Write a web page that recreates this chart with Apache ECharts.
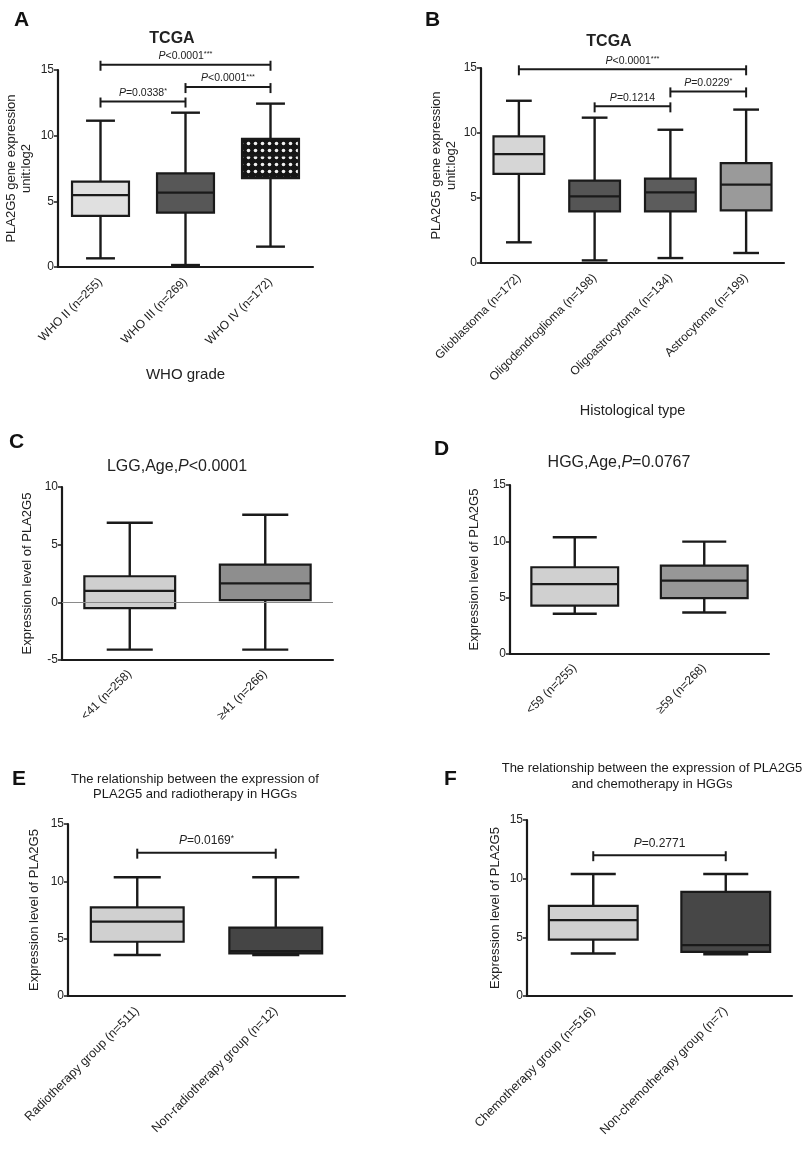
<!DOCTYPE html>
<html><head><meta charset="utf-8">
<script src="https://cdn.jsdelivr.net/npm/echarts@6/dist/echarts.min.js"></script>
<style>html,body{margin:0;padding:0;background:#fff}#c{width:808px;height:1152px}</style>
</head><body><div id="c"></div>
<script>
// ---- data: [min, Q1, median, Q3, max] ----
const catA = ['WHO II (n=255)', 'WHO III (n=269)', 'WHO IV (n=172)'];
const boxA = [[0.66, 3.9, 5.48, 6.5, 11.14], [0.15, 4.14, 5.66, 7.13, 11.75], [1.55, 6.76, 8.5, 9.75, 12.44]];
const brkA = [[0, 2, 15.4, 'P<0.0001***'], [1, 2, 13.7, 'P<0.0001***'], [0, 1, 12.6, 'P=0.0338*']];

const catB = ['Glioblastoma (n=172)', 'Oligodendroglioma (n=198)', 'Oligoastrocytoma (n=134)', 'Astrocytoma (n=199)'];
const boxB = [[1.59, 6.85, 8.38, 9.74, 12.48], [0.2, 3.97, 5.13, 6.33, 11.18], [0.38, 3.97, 5.44, 6.49, 10.25], [0.77, 4.05, 6.03, 7.69, 11.8]];
const brkB = [[0, 3, 14.9, 'P<0.0001***'], [2, 3, 13.2, 'P=0.0229*'], [1, 2, 12.05, 'P=0.1214']];

const catC = ['<41 (n=258)', '\u226541 (n=266)'];
const boxC = [[-4.1, -0.5, 1.0, 2.26, 6.9], [-4.1, 0.2, 1.65, 3.27, 7.6]];

const catD = ['<59 (n=255)', '\u226559 (n=268)'];
const boxD = [[3.57, 4.3, 6.2, 7.7, 10.36], [3.69, 4.96, 6.52, 7.85, 9.97]];

const catE = ['Radiotherapy group (n=511)', 'Non-radiotherapy group (n=12)'];
const boxE = [[3.57, 4.73, 6.48, 7.73, 10.35], [3.57, 3.72, 3.92, 5.96, 10.35]];
const brkE = [[0, 1, 12.5, 'P=0.0169*']];

const catF = ['Chemotherapy group (n=516)', 'Non-chemotherapy group (n=7)'];
const boxF = [[3.62, 4.81, 6.46, 7.68, 10.4], [3.56, 3.76, 4.33, 8.88, 10.4]];
const brkF = [[0, 1, 12.0, 'P=0.2771']];

// ---- styling ----
const FONT = 'Liberation Sans, Arial, sans-serif';
const INK = '#1a1a1a';
function dotPattern(bg, dot, size, r) {
  const c = document.createElement('canvas'); c.width = c.height = size;
  const g = c.getContext('2d'); g.fillStyle = bg; g.fillRect(0, 0, size, size);
  g.fillStyle = dot; g.beginPath(); g.arc(size / 2, size / 2, r, 0, Math.PI * 2); g.fill();
  return { image: c, repeat: 'repeat' };
}
const fillsA = ['#e0e0e0', '#575757', dotPattern('#151515', '#f0f0f0', 7, 1.8)];
const fillsB = ['#d6d6d6', '#555555', '#5c5c5c', '#9a9a9a'];
const fillsC = ['#cfcfcf', '#8e8e8e'];
const fillsD = ['#d0d0d0', '#979797'];
const fillsE = ['#d0d0d0', '#454545'];
const fillsF = ['#d0d0d0', '#474747'];

function boxRender(fills) {
  return function (params, api) {
    const i = api.value(0);
    const c = k => api.coord([i, api.value(k)]);
    const band = api.size([1, 0])[0];
    const bw = band * 0.67, cw = band * 0.34;
    const x = c(1)[0];
    const yMin = c(1)[1], yQ1 = c(2)[1], yMed = c(3)[1], yQ3 = c(4)[1], yMax = c(5)[1];
    const ls = { stroke: INK, lineWidth: 2.4 };
    return {
      type: 'group', children: [
        { type: 'line', shape: { x1: x, y1: yMax, x2: x, y2: yQ3 }, style: ls },
        { type: 'line', shape: { x1: x, y1: yQ1, x2: x, y2: yMin }, style: ls },
        { type: 'line', shape: { x1: x - cw / 2, y1: yMax, x2: x + cw / 2, y2: yMax }, style: ls },
        { type: 'line', shape: { x1: x - cw / 2, y1: yMin, x2: x + cw / 2, y2: yMin }, style: ls },
        { type: 'rect', shape: { x: x - bw / 2, y: yQ3, width: bw, height: yQ1 - yQ3 }, style: { fill: fills[params.dataIndex], stroke: INK, lineWidth: 2.2 } },
        { type: 'line', shape: { x1: x - bw / 2, y1: yMed, x2: x + bw / 2, y2: yMed }, style: { stroke: INK, lineWidth: 2.2 } }
      ]
    };
  };
}
function richLabel(s) {
  const m = s.match(/^P([<=][0-9.]+)(\**)$/);
  return '{i|P}{n|' + m[1] + '}' + (m[2] ? '{s|' + m[2] + '}' : '');
}
function brkRender(brk, fs, gap) {
  return function (params, api) {
    const b = brk[params.dataIndex];
    const p1 = api.coord([b[0], b[2]]), p2 = api.coord([b[1], b[2]]);
    const ls = { stroke: INK, lineWidth: 2 };
    return {
      type: 'group', children: [
        { type: 'line', shape: { x1: p1[0], y1: p1[1], x2: p2[0], y2: p2[1] }, style: ls },
        { type: 'line', shape: { x1: p1[0], y1: p1[1] - 4, x2: p1[0], y2: p1[1] + 6 }, style: ls },
        { type: 'line', shape: { x1: p2[0], y1: p2[1] - 4, x2: p2[0], y2: p2[1] + 6 }, style: ls },
        { type: 'text', x: (p1[0] + p2[0]) / 2, y: p1[1] - gap, style: {
          text: richLabel(b[3]), align: 'center', verticalAlign: 'bottom',
          rich: {
            i: { fontStyle: 'italic', fontSize: fs, fontFamily: FONT, fill: '#222' },
            n: { fontSize: fs, fontFamily: FONT, fill: '#222' },
            s: { fontSize: fs * 0.7, fontFamily: FONT, fill: '#222', verticalAlign: 'top' }
          } } }
      ]
    };
  };
}

const panels = [
  { cats: catA, box: boxA, brk: brkA, fills: fillsA, grid: { left: 58, top: 70, width: 255, height: 197 }, ymin: 0, ymax: 15, yName: 'PLA2G5 gene expression\nunit:log2', yGap: 24, xName: 'WHO grade', xGap: 100, xNameSize: 15, lblSize: 12, lblMargin: 13, bfs: 10.5, bgap: 3 },
  { cats: catB, box: boxB, brk: brkB, fills: fillsB, grid: { left: 481, top: 68, width: 303, height: 195 }, ymin: 0, ymax: 15, yName: 'PLA2G5 gene expression\nunit:log2', yGap: 22, xName: 'Histological type', xGap: 140, xNameSize: 14.5, lblSize: 12, lblMargin: 13, bfs: 10.5, bgap: 3 },
  { cats: catC, box: boxC, brk: null, fills: fillsC, grid: { left: 62, top: 487, width: 271, height: 173 }, ymin: -5, ymax: 10, yName: 'Expression level of PLA2G5', yGap: 27, lblSize: 12, lblMargin: 12, zero: true },
  { cats: catD, box: boxD, brk: null, fills: fillsD, grid: { left: 510, top: 485, width: 259, height: 169 }, ymin: 0, ymax: 15, yName: 'Expression level of PLA2G5', yGap: 28, lblSize: 12, lblMargin: 12 },
  { cats: catE, box: boxE, brk: brkE, fills: fillsE, grid: { left: 68, top: 824, width: 277, height: 172 }, ymin: 0, ymax: 15, yName: 'Expression level of PLA2G5', yGap: 26, lblSize: 12.5, lblMargin: 13, bfs: 12, bgap: 6 },
  { cats: catF, box: boxF, brk: brkF, fills: fillsF, grid: { left: 527, top: 820, width: 265, height: 176 }, ymin: 0, ymax: 15, yName: 'Expression level of PLA2G5', yGap: 24, lblSize: 12.5, lblMargin: 13, bfs: 12, bgap: 6 }
];

const grid = [], xAxis = [], yAxis = [], series = [];
panels.forEach((p, k) => {
  grid.push(p.grid);
  xAxis.push({
    type: 'category', gridIndex: k, data: p.cats,
    name: p.xName || '', nameLocation: 'middle', nameGap: p.xGap || 0,
    nameTextStyle: { fontSize: p.xNameSize || 14, color: '#222', fontFamily: FONT },
    axisLine: { onZero: false, lineStyle: { color: INK, width: 2.2 } },
    axisTick: { alignWithLabel: true, length: 5, lineStyle: { color: INK, width: 2 } },
    axisLabel: { rotate: 45, fontSize: p.lblSize, color: '#222', fontFamily: FONT, margin: p.lblMargin, interval: 0 },
    splitLine: { show: false }
  });
  yAxis.push({
    type: 'value', gridIndex: k, min: p.ymin, max: p.ymax, interval: 5,
    name: p.yName, nameLocation: 'middle', nameGap: p.yGap, nameRotate: 90,
    nameTextStyle: { fontSize: 13, color: '#222', fontFamily: FONT, lineHeight: 15 },
    axisLine: { show: true, lineStyle: { color: INK, width: 2.2 } },
    axisTick: { show: true, length: 4, lineStyle: { color: INK, width: 1.5 } },
    axisLabel: { fontSize: 12, color: '#222', fontFamily: FONT, margin: 4 },
    splitLine: { show: false }
  });
  const s = {
    type: 'custom', xAxisIndex: k, yAxisIndex: k, silent: true,
    renderItem: boxRender(p.fills),
    encode: { x: 0, y: [1, 2, 3, 4, 5] },
    data: p.box.map((b, i) => [i].concat(b)),
    z: 2
  };
  if (p.zero) {
    s.markLine = { symbol: 'none', silent: true, label: { show: false },
      lineStyle: { color: '#8a8a8a', type: 'solid', width: 1 }, data: [{ yAxis: 0 }], z: 5 };
  }
  series.push(s);
  if (p.brk) {
    series.push({
      type: 'custom', xAxisIndex: k, yAxisIndex: k, silent: true,
      renderItem: brkRender(p.brk, p.bfs, p.bgap),
      encode: { x: 0, y: 2 },
      data: p.brk.map(b => [b[0], b[1], b[2]]),
      z: 3
    });
  }
});

const rt = (fs, bold) => ({
  i: { fontStyle: 'italic', fontSize: fs, fontFamily: FONT, color: '#222', fontWeight: bold ? 'bold' : 'normal' },
  n: { fontSize: fs, fontFamily: FONT, color: '#222', fontWeight: bold ? 'bold' : 'normal' }
});
const letter = (t, l, tp) => ({ text: t, left: l, top: tp, textStyle: { fontSize: 21, fontWeight: 'bold', color: '#111', fontFamily: FONT } });
const title = [
  letter('A', 9, 5), letter('B', 420, 5), letter('C', 4, 427), letter('D', 429, 434), letter('E', 7, 764), letter('F', 439, 764),
  { text: 'TCGA', left: 167, top: 26, textAlign: 'center', textStyle: { fontSize: 16, fontWeight: 'bold', color: '#222', fontFamily: FONT } },
  { text: 'TCGA', left: 604, top: 29, textAlign: 'center', textStyle: { fontSize: 16, fontWeight: 'bold', color: '#222', fontFamily: FONT } },
  { text: '{n|LGG,Age,}{i|P}{n|<0.0001}', left: 172, top: 454, textAlign: 'center', textStyle: { rich: rt(16) } },
  { text: '{n|HGG,Age,}{i|P}{n|=0.0767}', left: 614, top: 450, textAlign: 'center', textStyle: { rich: rt(16) } },
  { text: 'The relationship between the expression of\nPLA2G5 and radiotherapy in HGGs', left: 190, top: 767, textAlign: 'center',
    textStyle: { fontSize: 13, fontWeight: 'normal', lineHeight: 15, color: '#1a1a1a', fontFamily: FONT } },
  { text: 'The relationship between the expression of PLA2G5\nand chemotherapy in HGGs', left: 647, top: 755, textAlign: 'center',
    textStyle: { fontSize: 13, fontWeight: 'normal', lineHeight: 16, color: '#1a1a1a', fontFamily: FONT } }
];

const chart = echarts.init(document.getElementById('c'), null, { renderer: 'canvas' });
chart.setOption({ animation: false, backgroundColor: '#fff', title, grid, xAxis, yAxis, series });
</script></body></html>
